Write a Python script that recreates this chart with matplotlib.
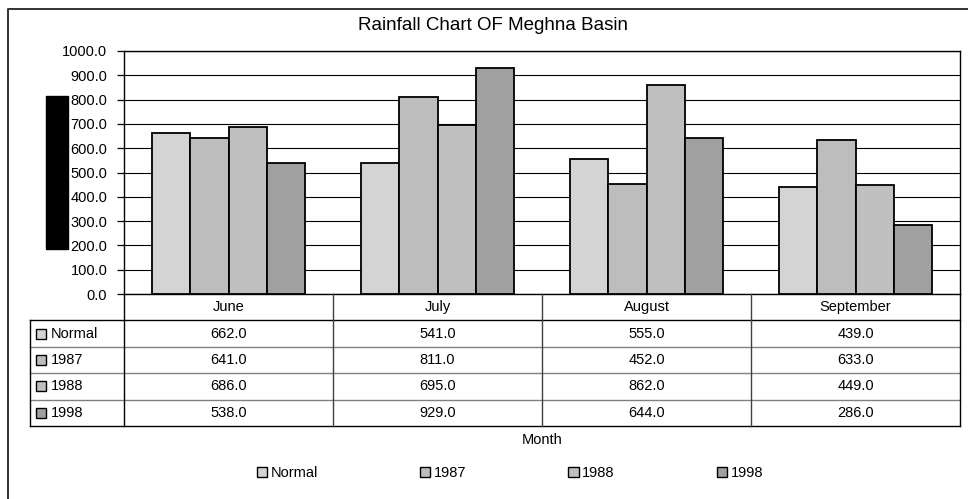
import numpy as np
import matplotlib.pyplot as plt
from matplotlib.patches import Rectangle, Patch
from matplotlib.lines import Line2D

plt.rcParams["font.family"] = ["Liberation Sans", "DejaVu Sans"]

months = ["June", "July", "August", "September"]
series = ["Normal", "1987", "1988", "1998"]
normal = [662.0, 541.0, 555.0, 439.0]
y1987 = [641.0, 811.0, 452.0, 633.0]
y1988 = [686.0, 695.0, 862.0, 449.0]
y1998 = [538.0, 929.0, 644.0, 286.0]
colors = ["#d4d4d4", "#bdbdbd", "#c0c0c0", "#a0a0a0"]

W, H = 968, 499


def fx(px):
    return px / W


def fy(py):
    return 1 - py / H


fig = plt.figure(figsize=(W / 100, H / 100), dpi=100)

# outer chart frame (left and top edges)
fig.add_artist(Line2D([fx(8), fx(8), 1.0], [0.0, fy(9), fy(9)], color="#333333", lw=1.4))

fig.text(fx(493), fy(25), "Rainfall Chart OF Meghna Basin", ha="center", va="center", fontsize=13.5)

# bar chart
ax = fig.add_axes([fx(124), fy(294), (960 - 124) / W, (294 - 51) / H])
values = [normal, y1987, y1988, y1998]
x = np.arange(len(months))
bw = 0.184
for i, (vals, c) in enumerate(zip(values, colors)):
    ax.bar(x + (i - 1.5) * bw, vals, bw, color=c, edgecolor="black", linewidth=1.3, zorder=3)

ax.set_xlim(-0.5, 3.5)
ax.set_ylim(0, 1000)
ax.set_yticks(np.arange(0, 1001, 100))
ax.set_yticklabels([f"{v:.1f}" for v in np.arange(0, 1001, 100)], fontsize=10.5)
ax.set_xticks([])
ax.yaxis.grid(True, color="black", lw=0.8, zorder=0)
ax.tick_params(axis="y", length=5, width=0.9, pad=7)
for s in ax.spines.values():
    s.set_color("black")
    s.set_linewidth(1.0)

# solid block beside the y axis
fig.add_artist(Rectangle((fx(46), fy(249)), 22 / W, 153 / H, color="black", zorder=5))

# data table under the bars
ax_t = fig.add_axes([fx(124), fy(426), (960 - 124) / W, (426 - 294) / H])
ax_t.set_xlim(-0.5, 3.5)
ax_t.set_ylim(5, 0)
ax_t.axis("off")

left = -0.5 - (124 - 30) / 209
kw = dict(clip_on=False, lw=1.0)
ax_t.plot([left, 3.5], [1, 1], color="black", **kw)
for r in (2, 3, 4):
    ax_t.plot([left, 3.5], [r, r], color="#808080", **kw)
ax_t.plot([left, 3.5], [5, 5], color="black", **kw)
ax_t.plot([left, left], [1, 5], color="black", **kw)
for c in (-0.5, 3.5):
    ax_t.plot([c, c], [0, 5], color="black", **kw)
for c in (0.5, 1.5, 2.5):
    ax_t.plot([c, c], [0, 5], color="#404040", **kw)

for j, m in enumerate(months):
    ax_t.text(j, 0.5, m, ha="center", va="center", fontsize=10.5)
for i, (name, vals, c) in enumerate(zip(series, values, colors)):
    row = i + 1.5
    ax_t.plot(left + 11 / 209, row, marker="s", ms=7, mfc=c, mec="black", mew=1.0, clip_on=False)
    ax_t.text(left + 21 / 209, row, name, ha="left", va="center", fontsize=10.5)
    for j, v in enumerate(vals):
        ax_t.text(j, row, f"{v:.1f}", ha="center", va="center", fontsize=10.5)

fig.text(fx(542), fy(440), "Month", ha="center", va="center", fontsize=10.5)

handles = [Patch(facecolor=c, edgecolor="black", lw=1.0) for c in colors]
fig.legend(handles, series, loc="center", bbox_to_anchor=(fx(510), fy(473)), ncol=4,
           frameon=False, fontsize=10.5, handlelength=0.7, handleheight=0.7,
           handletextpad=0.25, columnspacing=7.0)

fig.savefig("out.png", dpi=100)
